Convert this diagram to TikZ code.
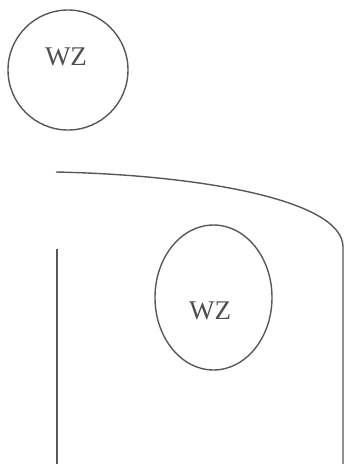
\documentclass[tikz,border=0pt]{standalone}
\usepackage{fontspec}
\setmainfont{Liberation Serif}
\usepackage{tikz}
\usetikzlibrary{shapes.geometric}

\definecolor{inkgray}{RGB}{88,88,88}

\tikzset{
  zone/.style={draw=inkgray, line width=1.4pt, inner sep=0pt},
  zonelabel/.style={text=inkgray!90!black, font=\fontsize{27}{30}\selectfont, inner sep=0pt}
}

\begin{document}
\begin{tikzpicture}[x=1pt,y=-1pt]
    \useasboundingbox (0,0) rectangle (345,464);

    % Outer zone
    \node[zone, circle, minimum size=120pt] (zoneA) at (68,70) {};
    \node[zonelabel] (labelA) at (66,57) {WZ};

    % Inner zone
    \node[zone, ellipse, minimum width=117pt, minimum height=145pt] (zoneB) at (213.5,297.5) {};
    \node[zonelabel] (labelB) at (210,311) {WZ};

    % Boundary
    \coordinate (roofL) at (56,172);
    \coordinate (roofR) at (343,247);
    \coordinate (wallRb) at (343,464);
    \coordinate (wallLt) at (57,249);
    \coordinate (wallLb) at (57,464);
    \draw[draw=inkgray, line width=1.4pt] (roofL) .. controls (200,175) and (343,200) .. (roofR) -- (wallRb);
    \draw[draw=inkgray, line width=1.4pt] (wallLt) -- (wallLb);
\end{tikzpicture}
\end{document}
